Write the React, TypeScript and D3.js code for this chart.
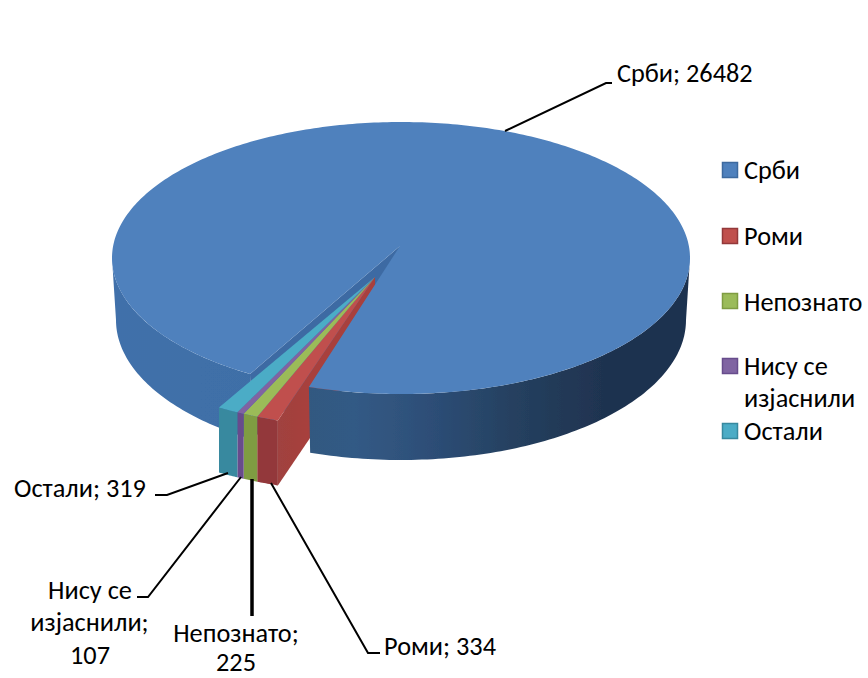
import React from "react";
import * as d3 from "d3";

const categories = ["Срби", "Роми", "Непознато", "Нису се изјаснили", "Остали"];
const values = [26482, 334, 225, 107, 319];
const topColors = ["#4f81bd", "#c0504d", "#9bbb59", "#8064a2", "#4bacc6"];
const frontColors = ["#3d6a9f", "#93383a", "#7f9c42", "#674c8c", "#37899f"];
const legendRows = [["Срби"], ["Роми"], ["Непознато"], ["Нису се", "изјаснили"], ["Остали"]];
const legendSwatchY = [162, 228, 293, 358, 423];
const legendTextY = [[170], [236], [302], [366, 398], [431]];

const W = 868, H = 678;
const CX = 401, CY = 258, RX = 289, RY = 136, DEPTH = 65;
const BOT_CY = 320, BOT_RX = 285, BOT_RY = 140;
const APEX: [number, number] = [400, 246];
const WEDGE_APEX: [number, number] = [375, 277];
const OFF: [number, number] = [-31, 33.5];
const START = (211.5 * Math.PI) / 180;
const FONT = "Carlito, Calibri, Lato, 'Open Sans', sans-serif";

const pie = d3.pie<number>().sort(null).startAngle(START).endAngle(START + 2 * Math.PI);
const arcs = pie(values);
const rx = d3.scaleLinear().domain([-1, 1]).range([CX - RX, CX + RX]);
const ry = d3.scaleLinear().domain([-1, 1]).range([CY - RY, CY + RY]);
const bx = d3.scaleLinear().domain([-1, 1]).range([CX - BOT_RX, CX + BOT_RX]);
const by = d3.scaleLinear().domain([-1, 1]).range([BOT_CY - BOT_RY, BOT_CY + BOT_RY]);
const rim = (a: number): [number, number] => [rx(Math.sin(a)), ry(-Math.cos(a))];
const botRim = (a: number): [number, number] => [bx(Math.sin(a)), by(-Math.cos(a))];
const shift = (p: [number, number], d: [number, number]): [number, number] => [p[0] + d[0], p[1] + d[1]];
const down = (p: [number, number]): [number, number] => [p[0], p[1] + DEPTH];
const line = d3.line<[number, number]>();
const angles = (a0: number, a1: number, n = 120) => d3.range(n + 1).map((i) => a0 + ((a1 - a0) * i) / n);

const blue = arcs[0];
const small = arcs.slice(1);

const blueTop = line([APEX, ...angles(blue.startAngle, blue.endAngle, 400).map(rim)]) + "Z";
const blueCut = line([APEX, rim(START), botRim(START), down(APEX)]) + "Z";
const wallBand = (as: number[]) => line([...as.map(rim), ...as.slice().reverse().map(botRim)]) + "Z";
const wallLeft = angles(START, (270 * Math.PI) / 180, 60);
const wallRight = angles((90 * Math.PI) / 180, blue.endAngle - 2 * Math.PI, 100);
const wedgeWall = (pts: [number, number][]) => line([...pts, ...pts.slice().reverse().map(down)]) + "Z";

const wedgeRim = (a: number) => shift(rim(a), OFF);
const redEnd = small[0].startAngle;
const redInner = line([
  WEDGE_APEX,
  wedgeRim(redEnd),
  down(wedgeRim(redEnd)),
  down(WEDGE_APEX),
]) + "Z";

const wallStops: [number, string][] = [
  [0, "#4070aa"],
  [0.3, "#3e6ea6"],
  [0.32, "#33597f"],
  [0.42, "#335a85"],
  [0.55, "#2d4e77"],
  [0.7, "#25405f"],
  [0.85, "#1f3350"],
  [1, "#1e3250"],
];

const leaders: { pts: [number, number][]; w: number }[] = [
  { pts: [[505, 131], [606, 83], [612, 83]], w: 2 },
  { pts: [[228, 473], [167, 495], [155, 495]], w: 2 },
  { pts: [[241, 477], [148, 597], [137, 597]], w: 2 },
  { pts: [[252, 479], [252, 616]], w: 3.5 },
  { pts: [[271, 483], [368, 653], [380, 653]], w: 2 },
];
const dataLabels: { t: string; x: number; y: number; a: string }[] = [
  { t: "Срби; 26482", x: 617, y: 73, a: "start" },
  { t: "Остали; 319", x: 14, y: 488, a: "start" },
  { t: "Нису се", x: 90, y: 590, a: "middle" },
  { t: "изјаснили;", x: 89.5, y: 622, a: "middle" },
  { t: "107", x: 90, y: 655, a: "middle" },
  { t: "Непознато;", x: 236, y: 633, a: "middle" },
  { t: "225", x: 236, y: 662, a: "middle" },
  { t: "Роми; 334", x: 384, y: 646, a: "start" },
];

export default function App() {
  return (
    <svg width={W} height={H} style={{ position: "absolute", left: 0, top: 0, background: "#fff" }} fontFamily={FONT}>
      <defs>
        <linearGradient id="wall" gradientUnits="userSpaceOnUse" x1={CX - RX} x2={CX + RX} y1={0} y2={0}>
          {wallStops.map(([o, c]) => (
            <stop key={o} offset={o} stopColor={c} />
          ))}
        </linearGradient>
        <linearGradient id="redSide" gradientUnits="userSpaceOnUse" x1={279} x2={310} y1={0} y2={0}>
          <stop offset={0} stopColor="#a0423f" />
          <stop offset={1} stopColor="#a8403c" />
        </linearGradient>
        <filter id="soft" x="-5%" y="-5%" width="110%" height="110%">
          <feGaussianBlur stdDeviation={0.5} />
        </filter>
      </defs>

      <g filter="url(#soft)">
        <path d={blueCut} fill="#3e6ba3" />
        <path d={redInner} fill="url(#redSide)" />
        <path d={wallBand(wallLeft)} fill="url(#wall)" />
        <path d={wallBand(wallRight)} fill="url(#wall)" />
        <path d={blueTop} fill={topColors[0]} />

        {small.map((s, i) => {
          const outer = angles(s.startAngle, s.endAngle, 12).map(wedgeRim);
          return (
            <g key={categories[i + 1]}>
              <path d={wedgeWall(outer)} fill={frontColors[i + 1]} />
              <path d={line([WEDGE_APEX, ...outer]) + "Z"} fill={topColors[i + 1]} />
            </g>
          );
        })}
      </g>

      {leaders.map((l, i) => (
        <path key={i} d={line(l.pts) as string} fill="none" stroke="#000" strokeWidth={l.w} />
      ))}
      {dataLabels.map((d) => (
        <text key={d.t} x={d.x} y={d.y} dy="0.35em" textAnchor={d.a as any} fontSize={26.3} fill="#000">
          {d.t}
        </text>
      ))}

      {legendRows.map((rows, i) => (
        <g key={i}>
          <rect x={722.5} y={legendSwatchY[i] + 0.5} width={15} height={15} fill={topColors[i]} stroke={frontColors[i]} strokeWidth={1.5} />
          {rows.map((r, j) => (
            <text key={r} x={744} y={legendTextY[i][j]} dy="0.35em" fontSize={26.3} fill="#000">
              {r}
            </text>
          ))}
        </g>
      ))}
    </svg>
  );
}
